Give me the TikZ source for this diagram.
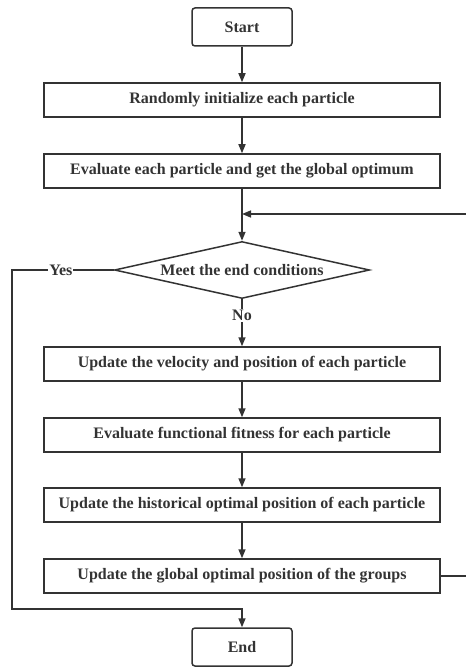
\documentclass[tikz,border=0pt]{standalone}
\usepackage{fontspec}
\setmainfont{Liberation Serif}
\usetikzlibrary{arrows.meta,shapes.geometric}
\definecolor{ink}{HTML}{333333}
\begin{document}
\begin{tikzpicture}[x=1pt,y=-1pt,
  every node/.style={text=ink,font=\bfseries\fontsize{16}{18}\selectfont},
  proc/.style={draw=ink,line width=1.5pt,minimum width=396pt,minimum height=34pt,inner sep=0pt},
  term/.style={draw=ink,line width=1.5pt,rounded corners=3pt,minimum width=100pt,minimum height=38pt,inner sep=0pt},
  dec/.style={draw=ink,line width=1.5pt,diamond,aspect=4.4,minimum width=255pt,minimum height=57pt,inner sep=0pt},
  conn/.style={draw=ink,line width=1.5pt},
  arr/.style={conn,-{Triangle[length=9pt,width=7pt]}}]
\useasboundingbox (0,0) rectangle (465,668);
\node[term] (start) at (242,27) {Start};
\node[proc] (b1) at (242,100) {Randomly initialize each particle};
\node[proc] (b2) at (242,171) {Evaluate each particle and get the global optimum};
\node[dec] (d) at (242,270) {Meet the end conditions};
\node[proc] (b3) at (242,364) {Update the velocity and position of each particle};
\node[proc] (b4) at (242,435) {Evaluate functional fitness for each particle};
\node[proc] (b5) at (242,505) {Update the historical optimal position of each particle};
\node[proc] (b6) at (242,576) {Update the global optimal position of the groups};
\node[term] (end) at (242,647) {End};
\coordinate (m) at (242,214);
\coordinate (r1) at (470,576);
\coordinate (r2) at (470,214);
\coordinate (l1) at (12,270);
\coordinate (l2) at (12,609);
\coordinate (l3) at (242,609);
\draw[arr] (start) -- (b1);
\draw[arr] (b1) -- (b2);
\draw[arr] (b2) -- (d);
\draw[arr] (b6.east) -- (r1) -- (r2) -- (m);
\draw[arr] (d.south) -- node[fill=white,inner sep=1pt,pos=0.35] {No} (b3);
\draw[arr] (b3) -- (b4);
\draw[arr] (b4) -- (b5);
\draw[arr] (b5) -- (b6);
\draw[arr] (d.west) -- node[fill=white,inner sep=1pt,pos=0.52] {Yes} (l1) -- (l2) -- (l3) -- (end);
\end{tikzpicture}
\end{document}
